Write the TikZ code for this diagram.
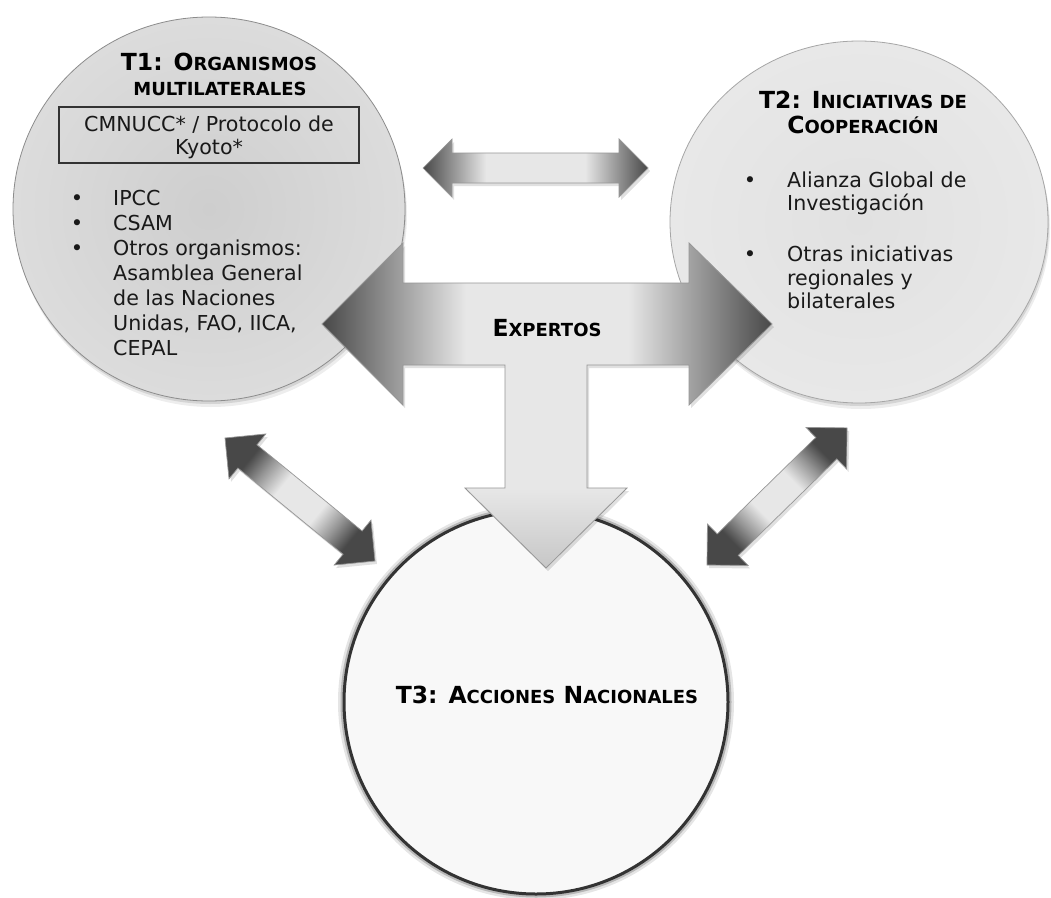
\documentclass[tikz,border=0pt]{standalone}
\usepackage{fontspec}
\setmainfont{DejaVu Sans}
\usetikzlibrary{shapes.geometric}
\definecolor{adark}{RGB}{72,72,72}
\definecolor{amid}{RGB}{150,150,150}
\definecolor{alight}{RGB}{231,231,231}
\definecolor{aborder}{RGB}{150,150,150}
\definecolor{tonein}{RGB}{206,206,206}
\definecolor{toneout}{RGB}{220,220,220}
\definecolor{ttwoin}{RGB}{225,225,225}
\definecolor{ttwoout}{RGB}{232,232,232}
\definecolor{tthree}{RGB}{248,248,248}
\definecolor{bodytext}{RGB}{25,25,25}
\pgfdeclarehorizontalshading{dblsh}{100bp}{color(0bp)=(adark); color(25bp)=(adark); color(39bp)=(alight); color(61bp)=(alight); color(75bp)=(adark); color(100bp)=(adark)}
\pgfdeclarehorizontalshading{diagsh}{100bp}{color(0bp)=(adark); color(27bp)=(adark); color(34bp)=(amid); color(42bp)=(alight); color(58bp)=(alight); color(66bp)=(amid); color(73bp)=(adark); color(100bp)=(adark)}
\pgfdeclarehorizontalshading{tsh}{100bp}{color(0bp)=(adark); color(25bp)=(adark); color(41bp)=(alight); color(59bp)=(alight); color(75bp)=(adark); color(100bp)=(adark)}
\newcommand\smc[1]{{\fontsize{18}{20}\selectfont #1}}
\newcommand\dblpath[1]{(0,0) -- (29,-29) -- (29,-15) -- (#1-29,-15) -- (#1-29,-29) -- (#1,0) -- (#1-29,29) -- (#1-29,15) -- (29,15) -- (29,29) -- cycle}
\begin{document}
\begin{tikzpicture}[x=1pt,y=-1pt,
  tt/.style={font=\fontsize{23.5}{25}\selectfont\bfseries, inner sep=0pt, anchor=base, text=black},
  body/.style={font=\fontsize{20.6}{25}\selectfont, inner sep=0pt, anchor=base west, text=bodytext},
  bul/.style={font=\fontsize{21}{21}\selectfont, inner sep=0pt, anchor=base, text=bodytext},
  arrowbox/.style={shading=dblsh, draw=aborder, line width=0.7pt,
     preaction={fill=black, opacity=.12, transform canvas={xshift=2pt, yshift=-3pt}}},
  softshadow/.style={preaction={fill=black, opacity=.07, transform canvas={xshift=2pt, yshift=-6pt}},
     preaction={fill=black, opacity=.10, transform canvas={xshift=1pt, yshift=-3pt}}}
]
\fill[white] (0,0) rectangle (1051,897);
\useasboundingbox (0,0) rectangle (1051,897);

% circles
\node (t1) [ellipse, minimum width=392pt, minimum height=384pt, inner sep=0pt,
  inner color=tonein, outer color=toneout, draw=black!45, line width=0.8pt, softshadow] at (209,209) {};
\node (t2) [ellipse, minimum width=378pt, minimum height=362pt, inner sep=0pt,
  inner color=ttwoin, outer color=ttwoout, draw=black!35, line width=0.8pt, softshadow] at (859,222) {};
\node (t3) [circle, minimum size=384pt, inner sep=0pt, fill=tthree,
  preaction={draw=black, opacity=.10, line width=12pt},
  preaction={draw=black, opacity=.20, line width=7pt},
  draw=black!80, line width=3pt] at (536,702) {};

% top double arrow (T1 <-> T2)
\begin{scope}[shift={(423,168)}]
  \path[arrowbox] \dblpath{225};
\end{scope}
% diagonal arrows
\begin{scope}[shift={(225,438)}, rotate=-39.35]
  \path[arrowbox, shading=diagsh, shading angle=-39.35] \dblpath{194};
\end{scope}
\begin{scope}[shift={(707,565)}, rotate=44.4]
  \path[arrowbox, shading=diagsh, shading angle=44.4] \dblpath{196};
\end{scope}

% big T arrow
\def\Tpath{(322,324) -- (403,243) -- (403,283) -- (689,283) -- (689,243) -- (772,324) -- (689,405) -- (689,365) -- (587,365) -- (587,488) -- (627,488) -- (546,568) -- (465,488) -- (505,488) -- (505,365) -- (403,365) -- (403,405) -- cycle}
\fill[black, opacity=.12, transform canvas={xshift=2pt, yshift=-3pt}] \Tpath;
\shade[shading=tsh] \Tpath;
\shade[top color=alight, bottom color=black!22] (465.5,488.6) -- (546,567.5) -- (626.5,488.6) -- cycle;
\draw[aborder, line width=0.8pt, line join=miter] \Tpath;

% T1 text
\node[tt] (t1a) at (219,70) {T1: O\smc{RGANISMOS}};
\node[tt] (t1b) at (220,95) {\smc{MULTILATERALES}};
\node (kyoto) [draw=black!80, line width=1.2pt, minimum width=300pt, minimum height=56pt, inner sep=0pt] at (209,135) {};
\node[body, anchor=base] (k1) at (209,131) {CMNUCC* / Protocolo de};
\node[body, anchor=base] (k2) at (209,154) {Kyoto*};
\node[bul] (b1) at (77,205) {•};
\node[bul] (b2) at (77,230) {•};
\node[bul] (b3) at (77,255) {•};
\node[body] (l1) at (113,205) {IPCC};
\node[body] (l2) at (113,230) {CSAM};
\node[body] (l3) at (113,255) {Otros organismos:};
\node[body] (l4) at (113,280) {Asamblea General};
\node[body] (l5) at (113,305) {de las Naciones};
\node[body] (l6) at (113,330) {Unidas, FAO, IICA,};
\node[body] (l7) at (113,355) {CEPAL};

% T2 text
\node[tt] (t2a) at (863,108) {T2: I\smc{NICIATIVAS DE}};
\node[tt] (t2b) at (863,133) {C\smc{OOPERACIÓN}};
\node[bul] (c1) at (750,187) {•};
\node[bul] (c2) at (750,261) {•};
\node[body] (m1) at (787,187) {Alianza Global de};
\node[body] (m2) at (787,210) {Investigación};
\node[body] (m3) at (787,261) {Otras iniciativas};
\node[body] (m4) at (787,285) {regionales y};
\node[body] (m5) at (787,308) {bilaterales};

% centre labels
\node[tt] (exp) at (547,336) {E\smc{XPERTOS}};
\node[tt] (t3t) at (547,703) {T3: A\smc{CCIONES} N\smc{ACIONALES}};
\end{tikzpicture}
\end{document}
